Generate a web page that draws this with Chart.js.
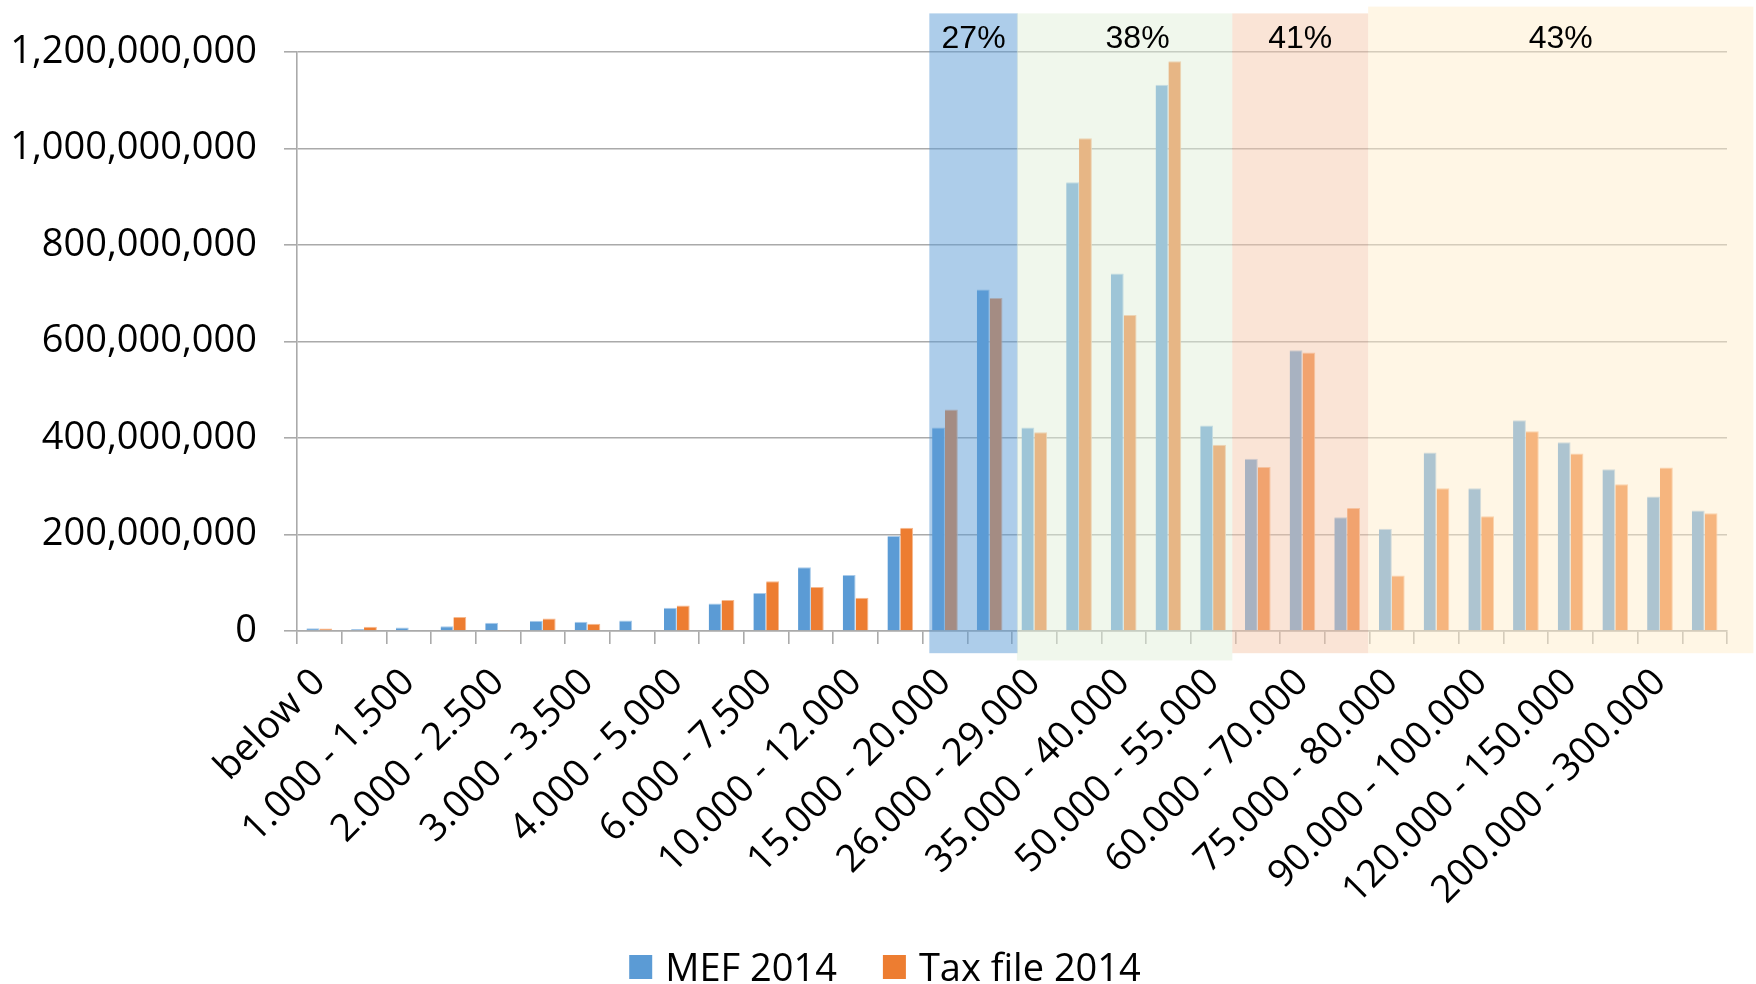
<!DOCTYPE html>
<html>
<head>
<meta charset="utf-8">
<title>Income distribution by bracket, 2014</title>
<script src="https://cdn.jsdelivr.net/npm/chart.js@4.4.1/dist/chart.umd.min.js"></script>
<style>
  html, body { margin: 0; padding: 0; background: #ffffff; }
  #wrap { width: 1756px; height: 984px; position: relative; }
</style>
</head>
<body>
<div id="wrap"><canvas id="chart" width="1756" height="984"></canvas></div>
<script>
// Income brackets (EUR); every second one is labelled on the axis
const incomeBrackets = [
  'below 0', '0 - 1.000', '1.000 - 1.500', '1.500 - 2.000', '2.000 - 2.500', '2.500 - 3.000',
  '3.000 - 3.500', '3.500 - 4.000', '4.000 - 5.000', '5.000 - 6.000', '6.000 - 7.500',
  '7.500 - 10.000', '10.000 - 12.000', '12.000 - 15.000', '15.000 - 20.000', '20.000 - 26.000',
  '26.000 - 29.000', '29.000 - 35.000', '35.000 - 40.000', '40.000 - 50.000', '50.000 - 55.000',
  '55.000 - 60.000', '60.000 - 70.000', '70.000 - 75.000', '75.000 - 80.000', '80.000 - 90.000',
  '90.000 - 100.000', '100.000 - 120.000', '120.000 - 150.000', '150.000 - 200.000',
  '200.000 - 300.000', 'over 300.000'
];

// Series values
const mef2014 = [
  5500000, 4000000, 7000000, 10000000, 17000000, 21000000, 19000000, 22000000,
  48000000, 57000000, 79000000, 132000000, 116000000, 197000000, 422000000, 708000000,
  422000000, 930000000, 741000000, 1132000000, 426000000, 357000000, 582000000, 236000000,
  212000000, 370000000, 296000000, 437000000, 391000000, 335000000, 279000000, 250000000
];
const taxFile2014 = [
  5000000, 9000000, 0, 29000000, 2000000, 26000000, 15000000, 0,
  53000000, 64000000, 103000000, 91000000, 69000000, 214000000, 459000000, 690000000,
  412000000, 1021000000, 655000000, 1181000000, 386000000, 340000000, 577000000, 255000000,
  115000000, 296000000, 238000000, 414000000, 368000000, 304000000, 339000000, 244000000
];

// Value axis ticks
const yTicks = [0, 200000000, 400000000, 600000000, 800000000, 1000000000, 1200000000];

// Marginal tax rates shaded over the brackets they apply to
const marginalRates = ['27%', '38%', '41%', '43%'];

// Shaded rate bands drawn over the bars (edges in category-boundary units)
const rateBandsPlugin = {
  id: 'rateBands',
  afterDatasetsDraw(chart, args, opts) {
    const { ctx } = chart;
    const xs = chart.scales.x, ys = chart.scales.y;
    const edge = b => xs.getPixelForValue(b - 0.5);
    ctx.save();
    opts.bands.forEach(band => {
      const x0 = edge(band.from), x1 = edge(band.to);
      const y0 = ys.getPixelForValue(band.top), y1 = ys.getPixelForValue(band.bottom);
      ctx.fillStyle = band.color;
      ctx.fillRect(x0, y0, x1 - x0, y1 - y0);
    });
    ctx.font = opts.font;
    ctx.fillStyle = opts.textColor;
    ctx.textAlign = 'center';
    ctx.textBaseline = 'middle';
    const ty = ys.getPixelForValue(opts.labelValue);
    opts.bands.forEach((band, i) => {
      const cx = (edge(band.from) + edge(band.to)) / 2 + (band.labelShift || 0) * (edge(1) - edge(0));
      ctx.fillText(marginalRates[i], cx, ty);
    });
    ctx.restore();
  }
};

// Legend centred under the chart
const bottomLegendPlugin = {
  id: 'bottomLegend',
  afterDraw(chart, args, opts) {
    const { ctx } = chart;
    ctx.save();
    ctx.font = opts.font;
    const items = chart.data.datasets.map(d => ({
      text: d.label, color: d.backgroundColor, w: ctx.measureText(d.label).width
    }));
    const total = items.reduce((s, it) => s + opts.boxWidth + opts.textGap + it.w, 0)
      + opts.itemGap * (items.length - 1);
    let x = chart.width / 2 + opts.shiftX - total / 2;
    ctx.textBaseline = 'middle';
    ctx.textAlign = 'left';
    items.forEach(it => {
      ctx.fillStyle = it.color;
      ctx.fillRect(x, opts.boxCenterY - opts.boxHeight / 2, opts.boxWidth, opts.boxHeight);
      x += opts.boxWidth + opts.textGap;
      ctx.fillStyle = opts.textColor;
      ctx.fillText(it.text, x, opts.textY);
      x += it.w + opts.itemGap;
    });
    ctx.restore();
  }
};

const gridGrey = '#AAAAAA';
const labelFont = { family: '"Open Sans"', size: 38 };
const barEdge = { top: 1, right: 1, bottom: 0, left: 0 };

new Chart(document.getElementById('chart'), {
  type: 'bar',
  data: {
    labels: incomeBrackets,
    datasets: [
      { label: 'MEF 2014', data: mef2014, backgroundColor: '#5B9BD5',
        borderColor: '#A9CBEA', borderWidth: barEdge, borderSkipped: false },
      { label: 'Tax file 2014', data: taxFile2014, backgroundColor: '#ED7D31',
        borderColor: '#F6B98F', borderWidth: barEdge, borderSkipped: false }
    ]
  },
  options: {
    responsive: false,
    animation: false,
    events: [],
    layout: { padding: { left: 0, right: 29, top: 52, bottom: 0 } },
    datasets: { bar: { categoryPercentage: 0.575, barPercentage: 1.0 } },
    plugins: {
      legend: { display: false },
      tooltip: { enabled: false },
      rateBands: {
        font: '32px "Liberation Sans", Arial, sans-serif',
        textColor: '#000000',
        labelValue: 1226000000,
        bands: [
          { from: 14.15, to: 16.13, top: 1280000000, bottom: -46000000, color: 'rgba(91,155,213,0.5)' },
          { from: 16.11, to: 20.93, top: 1280000000, bottom: -61000000, color: 'rgba(226,239,217,0.5)', labelShift: 0.29 },
          { from: 20.93, to: 23.97, top: 1280000000, bottom: -46000000, color: 'rgba(246,202,173,0.5)' },
          { from: 23.97, to: 32.59, top: 1294000000, bottom: -46000000, color: 'rgba(255,238,204,0.5)' }
        ]
      },
      bottomLegend: {
        font: '38px "Open Sans", sans-serif',
        textColor: '#000000',
        boxWidth: 23, boxHeight: 24, textGap: 13, itemGap: 46,
        boxCenterY: 967, textY: 970, shiftX: 7
      }
    },
    scales: {
      x: {
        grid: { drawOnChartArea: false, color: gridGrey, lineWidth: 1.6, tickLength: 13, offset: true },
        border: { color: gridGrey, width: 1.6 },
        ticks: {
          autoSkip: false, minRotation: 45, maxRotation: 45, padding: 16,
          color: '#000000',
          font: labelFont,
          callback: (v, i) => (i % 2 === 0 ? incomeBrackets[i] : '')
        },
        afterFit: s => { s.height = 353; }
      },
      y: {
        min: 0, max: 1200000000,
        afterBuildTicks: s => { s.ticks = yTicks.map(v => ({ value: v })); },
        grid: { color: gridGrey, lineWidth: 1.6, tickLength: 13 },
        border: { color: gridGrey, width: 1.6 },
        ticks: {
          padding: 27, color: '#000000',
          font: labelFont,
          callback: v => Number(v).toLocaleString('en-US')
        },
        afterFit: s => { s.width = 297; }
      }
    }
  },
  plugins: [rateBandsPlugin, bottomLegendPlugin]
});
</script>
</body>
</html>
